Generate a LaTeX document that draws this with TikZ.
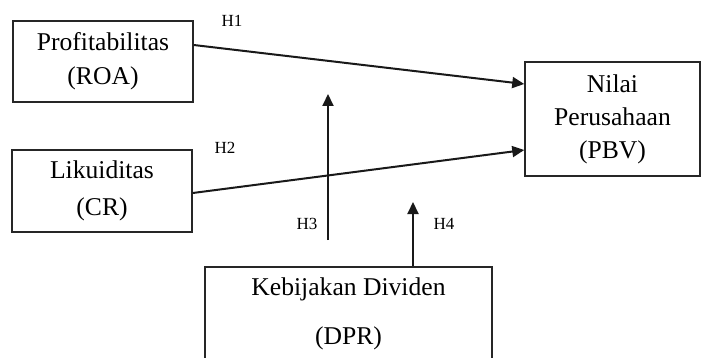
\documentclass[tikz,border=0pt]{standalone}
\usepackage{fontspec}
\setmainfont{Liberation Serif}
\usetikzlibrary{arrows.meta}
\begin{document}
\begin{tikzpicture}[x=0.5pt,y=-0.5pt,
  box/.style={draw=black!85,line width=0.75pt,rectangle,inner sep=0pt,align=center,
    font=\fontsize{12.8}{16.5}\selectfont},
  conn/.style={line width=1pt,black!90,-{Triangle[length=6pt,width=5.5pt]}},
  hlab/.style={font=\fontsize{8.5}{10}\selectfont,inner sep=0pt}]
\clip (0,0) rectangle (701,358);
\useasboundingbox (0,0) rectangle (701,358);
\node[box,minimum width=90pt,minimum height=40.5pt] (roa) at (103,61.5) {Profitabilitas\\[0.3pt](ROA)};
\node[box,minimum width=90pt,minimum height=41pt] (cr) at (102,191) {Likuiditas\\[2pt](CR)};
\node[box,minimum width=87.5pt,minimum height=57pt] (pbv) at (612.5,119) {Nilai\\Perusahaan\\(PBV)};
\node[box,minimum width=143.5pt,minimum height=56.5pt] (dpr) at (348.5,323.5) {};
\node[font=\fontsize{12.8}{16.5}\selectfont,inner sep=0pt] (dprtxt1) at (348.5,289) {Kebijakan Dividen};
\node[font=\fontsize{12.8}{16.5}\selectfont,inner sep=0pt] (dprtxt2) at (348.5,338) {(DPR)};
\coordinate (h3s) at (328,240);
\coordinate (h3e) at (328,94);
\coordinate (h4e) at (413,202);
\draw[conn] ([yshift=8.25pt]roa.east) -- ([yshift=17.5pt]pbv.west);
\draw[conn] ([yshift=-1pt]cr.east) -- ([yshift=-15.5pt]pbv.west);
\draw[conn] (h3s) -- (h3e);
\draw[conn] (dpr.north -| h4e) -- (h4e);
\node[hlab] (h1) at (232,21) {H1};
\node[hlab] (h2) at (225,148) {H2};
\node[hlab] (h3) at (307,224) {H3};
\node[hlab] (h4) at (444,224) {H4};
\end{tikzpicture}
\end{document}
